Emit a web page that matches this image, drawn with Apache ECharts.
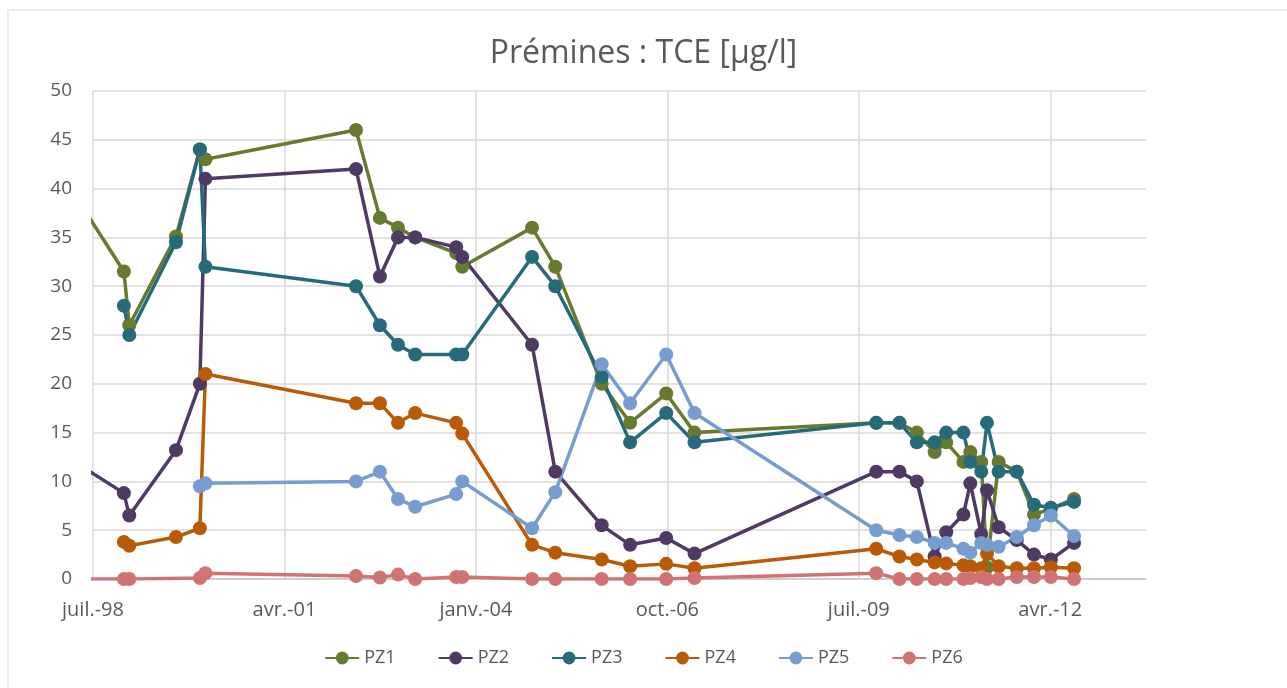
<!DOCTYPE html>
<html>
<head>
<meta charset="utf-8">
<script src="https://cdn.jsdelivr.net/npm/echarts@6/dist/echarts.min.js"></script>
<style>
  html, body { margin: 0; padding: 0; background: #fff; }
  #chart { width: 1287px; height: 688px; }
</style>
</head>
<body>
<div id="chart"></div>
<script>
// sampling dates (shared by all piezometers)
var dates = [
  '1998-01-15', '1998-12-11', '1999-01-09', '1999-09-10', '2000-01-14', '2000-02-12',
  '2002-04-11', '2002-08-15', '2002-11-18', '2003-02-16', '2003-09-19', '2003-10-21',
  '2004-10-22', '2005-02-20', '2005-10-22', '2006-03-19', '2006-09-25', '2007-02-20',
  '2009-10-01', '2010-02-01', '2010-05-01', '2010-08-03', '2010-10-03', '2011-01-02',
  '2011-02-07', '2011-04-04', '2011-05-04', '2011-07-04', '2011-10-08', '2012-01-07',
  '2012-04-04', '2012-08-04'
];

var pz1 = [41.6, 31.5, 26, 35.1, 44, 43, 46, 37, 36, 35, 33.4, 32, 36, 32, 20, 16, 19, 15,
  16, 16, 15, 13, 14, 12, 13, 12, 1.2, 12, 11, 6.6, 7.2, 8.2];
var pz2 = [12.9, 8.8, 6.5, 13.2, 20, 41, 42, 31, 35, 35, 34, 33, 24, 11, 5.5, 3.5, 4.2, 2.6,
  11, 11, 10, 2.3, 4.8, 6.6, 9.8, 4.6, 9.1, 5.3, 4.0, 2.5, 2.0, 3.7];
var pz3 = [null, 28, 25, 34.5, 44, 32, 30, 26, 24, 23, 23, 23, 33, 30, 20.7, 14, 17, 14,
  16, 16, 14, 14, 15, 15, 12, 11, 16, 11, 11, 7.6, 7.3, 7.9];
var pz4 = [null, 3.8, 3.4, 4.3, 5.2, 21, 18, 18, 16, 17, 16, 14.9, 3.5, 2.7, 2.0, 1.3, 1.55, 1.1,
  3.1, 2.3, 2.0, 1.7, 1.6, 1.4, 1.3, 1.1, 2.6, 1.3, 1.1, 1.1, 1.2, 1.1];
var pz5 = [null, null, null, null, 9.5, 9.8, 10, 11, 8.2, 7.4, 8.7, 10, 5.2, 8.9, 22, 18, 23, 17,
  5, 4.5, 4.3, 3.7, 3.7, 3.1, 2.7, 3.7, 3.5, 3.3, 4.3, 5.5, 6.5, 4.4];
var pz6 = [0, 0, 0, null, 0.1, 0.6, 0.3, 0.15, 0.45, 0, 0.2, 0.2, 0, 0, 0, 0, 0, 0.1,
  0.6, 0, 0, 0, 0, 0, 0.1, 0.2, 0, 0, 0.2, 0.2, 0.2, 0];

var names = ['PZ1', 'PZ2', 'PZ3', 'PZ4', 'PZ5', 'PZ6'];
var colors = ['#667a30', '#4e3a63', '#266b7a', '#b85a06', '#759dcf', '#cf7472'];
var moisFr = ['janv.', 'févr.', 'mars', 'avr.', 'mai', 'juin', 'juil.', 'août', 'sept.', 'oct.', 'nov.', 'déc.'];

// x axis in months counted from juil. 1998 (Excel date axis, major unit 33 months)
function toMonths(s) {
  var p = s.split('-');
  var y = +p[0], m = +p[1], d = +p[2];
  var dim = new Date(y, m, 0).getDate();
  return (y - 1998) * 12 + (m - 7) + (d - 1) / dim;
}
function monthLabel(v) {
  if (Math.abs(v % 33) > 0.001) return '';
  var idx = 6 + Math.round(v);
  var y = 1998 + Math.floor(idx / 12);
  return moisFr[idx % 12] + '-' + String(y).slice(2);
}

var allValues = [pz1, pz2, pz3, pz4, pz5, pz6];
var series = names.map(function (n, i) {
  return {
    name: n,
    type: 'line',
    data: dates.map(function (d, k) { return [toMonths(d), allValues[i][k]]; }),
    connectNulls: true,
    symbol: 'circle',
    symbolSize: 14,
    lineStyle: { width: 3.5, color: colors[i] },
    itemStyle: { color: colors[i] },
    clip: true
  };
});

var chart = echarts.init(document.getElementById('chart'));
chart.setOption({
  animation: false,
  color: colors,
  textStyle: { fontFamily: 'Open Sans' },
  title: {
    text: 'Prémines : TCE [µg/l]',
    left: 'center',
    top: 33,
    textStyle: { fontFamily: 'Open Sans', fontSize: 32, fontWeight: 'normal', color: '#595959' }
  },
  graphic: [{
    type: 'rect',
    shape: { x: 8, y: 10, width: 1300, height: 700 },
    style: { fill: 'none', stroke: '#d9d9d9', lineWidth: 1 },
    silent: true
  }],
  legend: {
    bottom: 16,
    left: 'center',
    itemWidth: 34,
    itemHeight: 16,
    itemGap: 42,
    textStyle: { fontSize: 18, color: '#595959', fontFamily: 'Open Sans' },
    data: names
  },
  grid: { left: 93, right: 141, top: 91, bottom: 109 },
  xAxis: {
    type: 'value',
    min: 0,
    max: 181.5,
    interval: 33,
    axisLine: { lineStyle: { color: '#c8c8c8', width: 1.5 } },
    axisTick: { show: false },
    axisLabel: {
      formatter: monthLabel,
      color: '#595959',
      fontSize: 20,
      margin: 21,
      showMaxLabel: false
    },
    splitLine: { show: true, showMaxLine: false, lineStyle: { color: '#d9d9d9', width: 1.5 } }
  },
  yAxis: {
    type: 'value',
    min: 0,
    max: 50,
    interval: 5,
    axisLine: { show: false },
    axisTick: { show: false },
    axisLabel: { color: '#595959', fontSize: 19, margin: 21 },
    splitLine: { lineStyle: { color: '#d9d9d9', width: 1.5 } }
  },
  series: series
});
</script>
</body>
</html>
